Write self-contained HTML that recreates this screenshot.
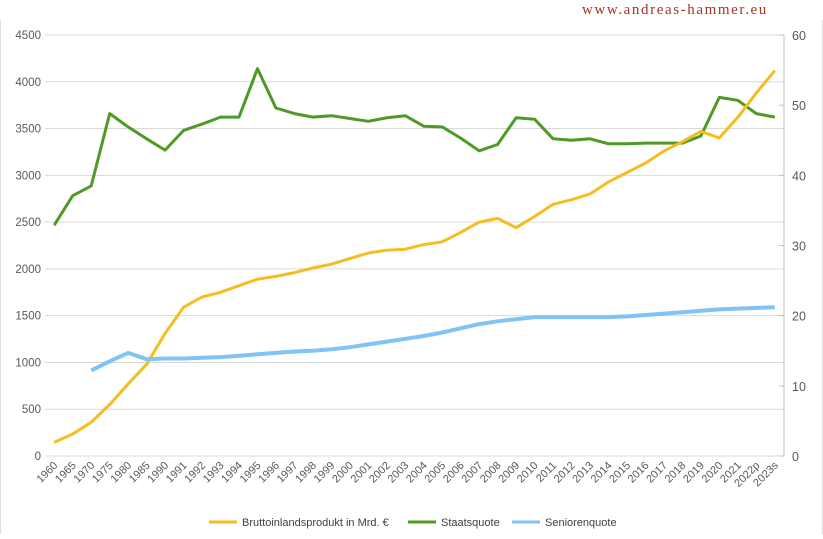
<!DOCTYPE html>
<html><head><meta charset="utf-8"><style>
body{margin:0;background:#fff;width:823px;height:534px;overflow:hidden;font-family:"Liberation Sans",sans-serif}
</style></head><body>
<svg id="c" width="823" height="534" xmlns="http://www.w3.org/2000/svg">
<line x1="0.5" y1="20" x2="0.5" y2="534" stroke="#ddd"/>
<line x1="822.5" y1="20" x2="822.5" y2="534" stroke="#ddd"/>
<text x="582" y="14" font-family="Liberation Serif,serif" font-size="15" letter-spacing="1.6" fill="#a0352a">www.andreas-hammer.eu</text>
<g id="grid"></g><g id="lines"></g><g id="xl"></g>
<g font-size="11" fill="#404040">
<line x1="209" y1="522" x2="237" y2="522" stroke="#f5bd1f" stroke-width="3"/>
<text x="242" y="526">Bruttoinlandsprodukt  in Mrd. €</text>
<line x1="408" y1="522" x2="436" y2="522" stroke="#4f9a26" stroke-width="3"/>
<text x="441" y="526">Staatsquote</text>
<line x1="512" y1="522" x2="540" y2="522" stroke="#7fc4f5" stroke-width="3"/>
<text x="545" y="526">Seniorenquote</text>
</g>
</svg>
<script>
const categories=["1960","1965","1970","1975","1980","1985","1990","1991","1992","1993","1994","1995","1996","1997","1998","1999","2000","2001","2002","2003","2004","2005","2006","2007","2008","2009","2010","2011","2012","2013","2014","2015","2016","2017","2018","2019","2020","2021","2022p","2023s"];
const bip=[145,235,360,550,770,980,1310,1590,1700,1750,1820,1890,1920,1960,2010,2050,2110,2170,2200,2210,2260,2290,2390,2500,2540,2440,2560,2690,2740,2800,2930,3030,3130,3260,3360,3470,3400,3620,3880,4120];
const staatsquote=[32.9,37.1,38.5,48.8,46.9,45.2,43.6,46.4,47.3,48.3,48.3,55.2,49.6,48.8,48.3,48.5,48.1,47.7,48.2,48.5,47.0,46.9,45.3,43.5,44.4,48.2,48.0,45.2,45.0,45.2,44.5,44.5,44.6,44.6,44.6,45.6,51.1,50.7,48.8,48.3];
const seniorenquote=[null,null,12.2,13.5,14.7,13.8,13.9,13.9,14.0,14.1,14.3,14.5,14.7,14.9,15.0,15.2,15.5,15.9,16.3,16.7,17.1,17.6,18.2,18.8,19.2,19.5,19.8,19.8,19.8,19.8,19.8,19.9,20.1,20.3,20.5,20.7,20.9,21.0,21.1,21.2];
const leftTicks=[0,500,1000,1500,2000,2500,3000,3500,4000,4500];
const rightTicks=[0,10,20,30,40,50,60];
const L=45,R=784,T=35,B=456,NS="http://www.w3.org/2000/svg";
const band=(R-L)/categories.length;
const x=i=>L+band*(i+0.5);
const yL=v=>B-(v/4500)*(B-T);
const yR=v=>B-(v/60)*(B-T);
function mk(tag,attrs,parent){const e=document.createElementNS(NS,tag);for(const k in attrs)e.setAttribute(k,attrs[k]);parent.appendChild(e);return e;}
const grid=document.getElementById('grid');
leftTicks.forEach(v=>{
 const l=mk('line',{x1:L,x2:R,y1:yL(v),y2:yL(v),stroke:'#d9d9d9'},grid);
 
 
 const t=mk('text',{x:L-4,y:yL(v)+4,'text-anchor':'end','font-size':11.5,fill:'#595959'},grid);
 t.textContent=v;
 
 
});
const ax=mk('line',{x1:R,x2:R,y1:T,y2:B,stroke:'#bfbfbf'},grid);


rightTicks.forEach(v=>{
 const l=mk('line',{x1:R-5,x2:R,y1:yR(v),y2:yR(v),stroke:'#bfbfbf'},grid);
 
 
 const t=mk('text',{x:R+8,y:yR(v)+5,'font-size':12.5,fill:'#595959'},grid);
 t.textContent=v;
 
 
});
const xl=document.getElementById('xl');
categories.forEach((c,i)=>{
 const t=mk('text',{x:x(i)+4,y:B+10,'text-anchor':'end','font-size':11,fill:'#595959',transform:`rotate(-45 ${x(i)+4} ${B+10})`},xl);
 t.textContent=c;
 
 
});
function series(vals,yf,color,name){
 let d='';let pen=false;
 vals.forEach((v,i)=>{if(v==null){pen=false;return;}d+=(pen?'L':'M')+x(i).toFixed(1)+' '+yf(v).toFixed(1)+' ';pen=true;});
 const p=mk('path',{d:d,fill:'none',stroke:color,'stroke-width':name==='seniorenquote-line'?4:3,'stroke-linejoin':'round'},document.getElementById('lines'));
 
 
}
series(staatsquote,yR,'#4f9a26','staatsquote-line');
series(bip,yL,'#f5bd1f','bip-line');
series(seniorenquote,yR,'#7fc4f5','seniorenquote-line');
</script>
</body></html>
